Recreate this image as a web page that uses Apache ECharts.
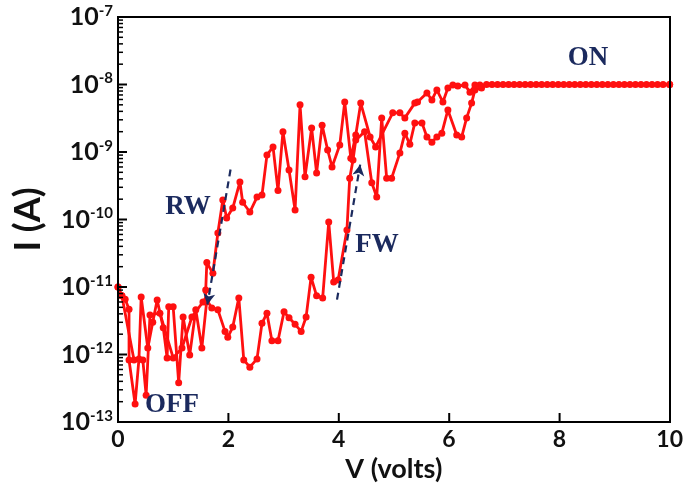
<!DOCTYPE html>
<html>
<head>
<meta charset="utf-8">
<script src="https://cdn.jsdelivr.net/npm/echarts@6/dist/echarts.min.js"></script>
</head>
<body style="margin:0;background:#fff">
<div id="chart" style="width:686px;height:490px"></div>
<script>
// Forward sweep (0 V -> 10 V): OFF state, switching near 4 V, then ON
const forwardVolts = [
  0, 0.07, 0.13, 0.2, 0.2, 0.31, 0.38, 0.42, 0.54, 0.63, 0.71, 0.82, 0.89, 0.92, 1.0,
  1.1, 1.18, 1.3, 1.41, 1.52, 1.61, 1.7, 1.81, 1.94, 1.99, 2.08, 2.19, 2.28, 2.39, 2.52,
  2.61, 2.7, 2.79, 2.9, 3.01, 3.1, 3.21, 3.32, 3.41, 3.5, 3.6, 3.71, 3.82, 3.91, 3.99,
  4.15, 4.2, 4.26, 4.31, 4.47, 4.6, 4.69, 4.78, 4.87, 4.96, 5.11, 5.2, 5.29, 5.38, 5.51,
  5.6, 5.69, 5.78, 5.87, 5.98, 6.14, 6.23, 6.32, 6.41, 6.47, 6.59
];
const forwardAmps = [
  1.0e-11, 7.4e-12, 6.6e-12, 4.7e-12, 8.3e-13, 1.85e-13, 8.6e-13, 7.1e-12, 1.25e-12, 3.0e-12,
  6.4e-12, 2.5e-12, 8.9e-13, 5.1e-12, 5.1e-12, 3.8e-13, 3.6e-12, 9.8e-13, 4.6e-12, 1.25e-12,
  6.4e-12, 4.9e-12, 4.6e-12, 2.2e-12, 1.8e-12, 2.55e-12, 6.9e-12, 8.3e-13, 6.5e-13, 8.6e-13,
  2.9e-12, 4.1e-12, 1.6e-12, 1.6e-12, 4.3e-12, 3.5e-12, 2.8e-12, 2.2e-12, 3.6e-12, 1.4e-11,
  7.4e-12, 6.9e-12, 9.2e-11, 1.19e-11, 1.27e-11, 7.0e-11, 4.1e-10, 7.6e-10, 1.5e-9, 2.0e-9,
  3.5e-10, 2.15e-10, 3.2e-9, 4.1e-10, 4.1e-10, 9.7e-10, 1.9e-9, 1.3e-9, 2.7e-9, 2.7e-9,
  1.67e-9, 1.4e-9, 1.67e-9, 1.9e-9, 4.2e-9, 1.79e-9, 1.67e-9, 3.2e-9, 5.3e-9, 8.3e-9, 8.9e-9
];

// ON plateau (compliance level)
const onVolts = [
  6.68, 6.78, 6.88, 6.98, 7.08, 7.18, 7.28, 7.38, 7.48, 7.58, 7.68, 7.78, 7.88, 7.98,
  8.08, 8.18, 8.28, 8.38, 8.48, 8.58, 8.68, 8.78, 8.88, 8.98, 9.08, 9.18, 9.28, 9.38,
  9.48, 9.58, 9.68, 9.78, 9.88, 10.0
];
const onAmps = 1.0e-8;

// Reverse sweep (10 V -> 0 V): stays ON, then resets near 1.7 V
const reverseVolts = [
  10.0, 6.56, 6.47, 6.38, 6.29, 6.16, 6.07, 5.98, 5.89, 5.78, 5.69, 5.6, 5.43, 5.38, 5.2,
  5.11, 4.98, 4.67, 4.57, 4.4, 4.31, 4.22, 4.11, 4.02, 3.88, 3.8, 3.7, 3.6, 3.51, 3.39,
  3.3, 3.21, 3.1, 2.99, 2.9, 2.81, 2.7, 2.61, 2.52, 2.39, 2.26, 2.21, 2.08, 1.97, 1.9,
  1.81, 1.72, 1.61, 1.59, 1.59, 1.54, 1.34, 1.16, 1.0, 0.76, 0.58, 0.51, 0.45, 0.29, 0.07, 0
];
const reverseAmps = [
  1.0e-8, 9.8e-9, 9.8e-9, 7.7e-9, 9.8e-9, 9.5e-9, 9.8e-9, 8.9e-9, 5.5e-9, 8.3e-9,
  5.9e-9, 7.5e-9, 5.5e-9, 5.3e-9, 3.2e-9, 3.8e-9, 3.8e-9, 1.19e-9, 1.67e-9, 5.3e-9,
  1.79e-9, 8.1e-10, 5.5e-9, 1.27e-9, 6.0e-10, 1.07e-9, 2.5e-9, 4.9e-10, 2.27e-9, 4.3e-10,
  5.0e-9, 1.38e-10, 5.4e-10, 2.0e-9, 2.7e-10, 1.19e-9, 9.0e-10, 2.3e-10, 2.15e-10, 1.29e-10,
  1.8e-10, 3.6e-10, 1.48e-10, 1.05e-10, 1.95e-10, 6.3e-11, 1.6e-11, 2.3e-11, 9.0e-12, 6.0e-12,
  6.0e-12, 3.6e-12, 1.25e-12, 8.9e-13, 4.1e-12, 3.85e-12, 2.5e-13, 8.3e-13, 8.3e-13, 7.4e-12, 1.0e-11
];

// Sweep-direction arrows: [start V, start I, end V, end I]
const rwArrow = [2.04, 5.5e-10, 1.62, 5.5e-12];
const fwArrow = [3.97, 6.5e-12, 4.39, 6.5e-10];

// Axis ticks
const xTickVolts = [0, 2, 4, 6, 8, 10];
const yTickExponents = [-13, -12, -11, -10, -9, -8, -7];
const yMinorMantissas = [2, 3, 4, 5, 6, 7, 8, 9];

const RED = '#ff1010';
const NAVY = '#1b2a5e';
const INK = '#000000';
const AXIS_FONT = 'Lato, "Open Sans", sans-serif';
const NOTE_FONT = '"Liberation Serif", "DejaVu Serif", serif';

const WIDTH = 686, HEIGHT = 490;
const GRID = { left: 118, right: 16, top: 17, bottom: 68 };
const V_MIN = 0, V_MAX = 10, I_MIN = 1e-13, I_MAX = 1e-7;

const pairs = (xs, ys) => xs.map((v, i) => [v, Array.isArray(ys) ? ys[i] : ys]);
const forwardData = pairs(forwardVolts, forwardAmps).concat(pairs(onVolts, onAmps));
const reverseData = pairs(reverseVolts, reverseAmps);

const arrowLine = (a) => [{ coord: [a[0], a[1]] }, { coord: [a[2], a[3]] }];

const chart = echarts.init(document.getElementById('chart'));

const lineSeries = (name, data, extra) => Object.assign({
  name,
  type: 'line',
  data,
  symbol: 'circle',
  symbolSize: 7,
  showSymbol: true,
  lineStyle: { color: RED, width: 2.8 },
  itemStyle: { color: RED },
  z: 3
}, extra || {});

const noteText = (x, y, text) => ({
  type: 'text', x, y, z: 10,
  style: { text, font: 'bold 27px ' + NOTE_FONT, fill: NAVY, align: 'center', verticalAlign: 'middle' }
});

// Plot-area geometry, matching the grid and the axis extents
const plotW = WIDTH - GRID.left - GRID.right;
const plotH = HEIGHT - GRID.top - GRID.bottom;
const xPix = (v) => GRID.left + (v - V_MIN) / (V_MAX - V_MIN) * plotW;
const yPix = (i) => GRID.top + (Math.log10(I_MAX) - Math.log10(i)) /
  (Math.log10(I_MAX) - Math.log10(I_MIN)) * plotH;

// Solid filled bar, used for frame edges and tick marks
const bar = (x, y, w, h) => ({
  type: 'rect', z: 20, silent: true,
  shape: { x, y, width: w, height: h },
  style: { fill: INK }
});

const xL = xPix(V_MIN), xR = xPix(V_MAX), yB = yPix(I_MIN), yT = yPix(I_MAX);
const frameParts = [
  bar(xL - 1, yT - 1, xR - xL + 2, 2),   // top
  bar(xL - 1, yB - 1, xR - xL + 2, 2),   // bottom
  bar(xL - 1, yT - 1, 2, yB - yT + 2),   // left
  bar(xR - 1, yT - 1, 2, yB - yT + 2)    // right
];
xTickVolts.forEach((v) => frameParts.push(bar(xPix(v) - 1, yB - 9, 2, 9)));
yTickExponents.forEach((e) => {
  const decade = Math.pow(10, e);
  frameParts.push(bar(xL, yPix(decade) - 1, 9, 2));
  if (e < -7) {
    yMinorMantissas.forEach((m) => frameParts.push(bar(xL, yPix(m * decade) - 0.75, 5, 1.5)));
  }
});

chart.setOption({
  animation: false,
  grid: GRID,
  xAxis: {
    type: 'value',
    min: V_MIN, max: V_MAX, interval: 2,
    name: 'V (volts)',
    nameLocation: 'middle',
    nameGap: 30,
    nameTextStyle: { fontFamily: AXIS_FONT, fontSize: 27, fontWeight: 'bold', color: '#111' },
    axisLine: { show: false },
    axisTick: { show: false },
    axisLabel: { margin: 6, fontFamily: AXIS_FONT, fontSize: 23, fontWeight: 'bold', color: '#111' },
    splitLine: { show: false }
  },
  yAxis: {
    type: 'log',
    logBase: 10,
    min: I_MIN, max: I_MAX,
    name: 'I (A)',
    nameLocation: 'middle',
    nameGap: 72,
    nameTextStyle: { fontFamily: AXIS_FONT, fontSize: 36, fontWeight: 'bold', color: '#111' },
    axisLine: { show: false },
    axisTick: { show: false },
    axisLabel: {
      margin: 5,
      formatter: (val) => {
        const e = Math.round(Math.log10(val));
        return yTickExponents.includes(e) ? '{b|10}{s|' + e + '}' : '';
      },
      rich: {
        b: { fontFamily: AXIS_FONT, fontSize: 25, fontWeight: 'bold', color: '#111' },
        s: { fontFamily: AXIS_FONT, fontSize: 15, fontWeight: 'bold', color: '#111', padding: [0, 0, 12, 0] }
      }
    },
    splitLine: { show: false }
  },
  series: [
    lineSeries('forward', forwardData, {
      markLine: {
        silent: true,
        symbol: ['none', 'arrow'],
        symbolSize: [9, 11],
        label: { show: false },
        lineStyle: { color: NAVY, type: [7, 5], width: 2.2 },
        data: [arrowLine(rwArrow), arrowLine(fwArrow)],
        z: 4
      }
    }),
    lineSeries('reverse', reverseData)
  ],
  graphic: frameParts.concat([
    noteText(588, 58, 'ON'),
    noteText(172, 405, 'OFF'),
    noteText(188, 207, 'RW'),
    noteText(377, 245, 'FW')
  ])
});
</script>
</body>
</html>
